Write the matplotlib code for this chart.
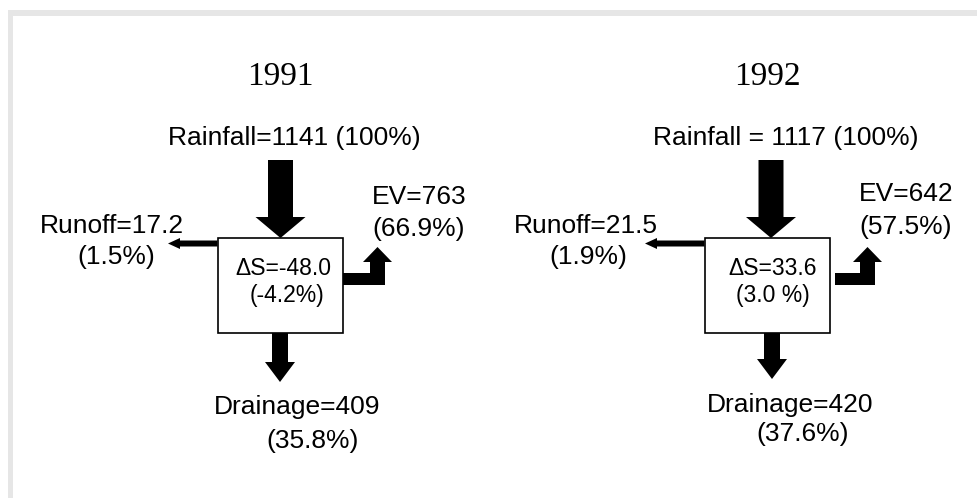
import matplotlib.pyplot as plt
from matplotlib.patches import Rectangle, Polygon, FancyArrow

# water balance values (mm) for each year
years = ["1991", "1992"]
rainfall = [1141, 1117]
runoff = [17.2, 21.5]
evap = [763, 642]
drainage = [409, 420]
storage = [-48.0, 33.6]
runoff_pct = ["1.5%", "1.9%"]
evap_pct = ["66.9%", "57.5%"]
drain_pct = ["35.8%", "37.6%"]
storage_pct = ["-4.2%", "3.0 %"]
rain_fmt = ["Rainfall={} (100%)", "Rainfall = {} (100%)"]

# panel offsets (pixels) and small per-panel tweaks
offsets = [0, 487]
rain_x = [280.5, 284]
drain_x = [280, 285]
ev_start = [343, 348]
runoff_tip = [168, 158]

sans = "Liberation Sans"
serif = "Liberation Serif"
fs = 19

fig = plt.figure(figsize=(9.77, 4.98), dpi=100)
ax = fig.add_axes([0, 0, 1, 1])
ax.set_xlim(0, 977)
ax.set_ylim(498, 0)
ax.axis("off")

# light grey frame (top and left only)
ax.add_patch(Rectangle((8, 10), 969, 6, color="#e6e6e6", lw=0))
ax.add_patch(Rectangle((8, 10), 5, 488, color="#e6e6e6", lw=0))

for i, x0 in enumerate(offsets):
    # title
    ax.text(x0 + 280, 77, years[i], fontsize=24, family=serif,
            ha="center", va="center")

    # rainfall label + arrow
    ax.text(x0 + 294 + (5 if i else 0), 138, rain_fmt[i].format(rainfall[i]),
            fontsize=fs, family=sans, ha="center", va="center")
    ax.add_patch(FancyArrow(x0 + rain_x[i], 160, 0, 78, width=25,
                            head_width=50, head_length=21,
                            length_includes_head=True, color="black", lw=0))

    # storage box
    ax.add_patch(Rectangle((x0 + 217.5, 238), 125.5, 95, facecolor="white",
                           edgecolor="black", lw=1.2, zorder=3))
    ax.text(x0 + 283 + (3 if i else 0), 268, "\u0394S={:.1f}".format(storage[i]),
            fontsize=16.5, family=sans, ha="center", va="center", zorder=4)
    ax.text(x0 + 287 - (1 if i else 0), 295, "(" + storage_pct[i] + ")",
            fontsize=16.5, family=sans, ha="center", va="center", zorder=4)

    # runoff arrow + label
    ax.add_patch(FancyArrow(x0 + 217.5, 243.5, runoff_tip[i] - 217.5, 0,
                            width=6, head_width=11, head_length=12,
                            length_includes_head=True, color="black", lw=0))
    ax.text(x0 + 112 + (-13 if i else 0), 226, "Runoff={}".format(runoff[i]),
            fontsize=fs, family=sans, ha="center", va="center")
    ax.text(x0 + 116 - (15 if i else 0), 257, "(" + runoff_pct[i] + ")",
            fontsize=fs, family=sans, ha="center", va="center")

    # evapotranspiration L-shaped arrow + label
    s = x0 + ev_start[i]
    xr = x0 + 385 + (3 if i else 0)
    ev_shape = [(s, 273), (s, 285), (xr, 285), (xr, 262), (xr + 7, 262),
                (xr - 7.5, 247), (xr - 22, 262), (xr - 15, 262), (xr - 15, 273)]
    ax.add_patch(Polygon(ev_shape, closed=True, color="black", lw=0))
    ax.text(x0 + 372, 197 - (3 if i else 0), "EV={}".format(evap[i]),
            fontsize=fs, family=sans, ha="left", va="center")
    ax.text(x0 + 372, 229 - (2 if i else 0), "(" + evap_pct[i] + ")",
            fontsize=fs, family=sans, ha="left", va="center")

    # drainage arrow + label
    ax.add_patch(FancyArrow(x0 + drain_x[i], 333, 0, 49 - (3 if i else 0), width=16,
                            head_width=30, head_length=20,
                            length_includes_head=True, color="black", lw=0))
    ax.text(x0 + 297 + (6 if i else 0), 407 - (2 if i else 0), "Drainage={}".format(drainage[i]),
            fontsize=fs, family=sans, ha="center", va="center")
    ax.text(x0 + 313 + (3 if i else 0), 441 - (7 if i else 0), "(" + drain_pct[i] + ")",
            fontsize=fs, family=sans, ha="center", va="center")

fig.savefig("out.png", dpi=100, facecolor="white")
